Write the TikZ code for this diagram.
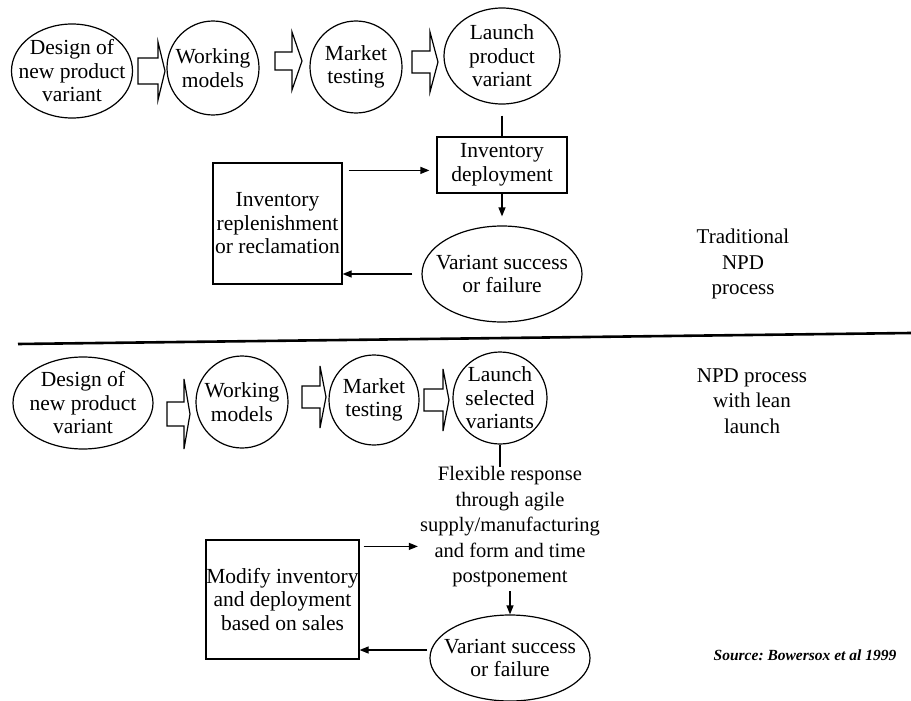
\documentclass[tikz,border=0pt]{standalone}
\usepackage{fontspec}
\setmainfont{Liberation Serif}
\usetikzlibrary{shapes.geometric,arrows.meta,calc}
\frenchspacing
\begin{document}
\begin{tikzpicture}[x=1pt,y=-1pt,
  every node/.style={font=\fontsize{21.5}{23.5}\selectfont, align=center, inner sep=0pt},
  stage/.style={draw, ellipse, line width=1.2pt, inner sep=0pt},
  stepbox/.style={draw, rectangle, line width=1.2pt},
  fat/.style={draw, line width=1.2pt, line join=miter},
  plain/.style={line width=1.2pt},
  arr/.style={line width=1.2pt, -{Triangle[length=9pt,width=7pt]}},
  sidetext/.style={font=\fontsize{21}{25.5}\selectfont}
]
\useasboundingbox (0,0) rectangle (911,701);

% ---------- traditional NPD process ----------
\node[stage, minimum width=121pt, minimum height=94pt,
      label={center:Design of\\new product\\variant}] (d1) at (72,71) {};
\node[stage, minimum width=92pt, minimum height=94pt,
      label={center:Working\\models}] (wm1) at (213,68) {};
\node[stage, minimum width=92pt, minimum height=92pt,
      label={center:Market\\testing}] (mt1) at (356,67) {};
\node[stage, minimum width=116pt, minimum height=96pt,
      label={center:Launch\\product\\variant}] (lp1) at (502,56) {};

% hollow block arrows between the stages
\draw[fat] (138,58) -- (158,58) -- (158,42) -- (165,71) -- (158,100) -- (158,84) -- (138,84) -- cycle;
\draw[fat] (275,52) -- (292,52) -- (292,32) -- (302,61) -- (292,90) -- (292,70) -- (275,70) -- cycle;
\draw[fat] (412,51) -- (430,51) -- (430,32) -- (438,62) -- (430,92) -- (430,73) -- (412,73) -- cycle;

\node[stepbox, minimum width=130pt, minimum height=56pt] (dep) at (502,165) {Inventory\\deployment};
\node[stage, minimum width=160pt, minimum height=96pt,
      label={center:Variant success\\or failure}] (var1) at (502,274) {};
\node[stepbox, minimum width=129pt, minimum height=121pt] (rep) at (277.5,223.5)
      {Inventory\\replenishment\\or reclamation};

\draw[plain] ([yshift=-11pt]lp1.south) -- (dep.north);
\draw[arr, shorten >=9pt] (dep.south) -- (var1.north);
\coordinate (r1) at ([xshift=6pt,yshift=-8pt]rep.north east);
\draw[arr, shorten >=7pt] (r1) -- (r1 -| dep.west);
\coordinate (v0) at ([xshift=-9pt]var1.west);
\draw[arr] (v0) -- (v0 -| rep.east);

\node[sidetext] (trad) at (743,264) {Traditional\\NPD\\process};

% ---------- separator ----------
\coordinate (sepL) at (18,344);
\coordinate (sepR) at (911,333);
\draw[line width=2.6pt] (sepL) -- (sepR);

% ---------- NPD process with lean launch ----------
\node[stage, minimum width=140pt, minimum height=92pt,
      label={center:Design of\\new product\\variant}] (d2) at (83,403) {};
\node[stage, minimum width=92pt, minimum height=92pt,
      label={center:Working\\models}] (wm2) at (242,402) {};
\node[stage, minimum width=90pt, minimum height=90pt,
      label={center:Market\\testing}] (mt2) at (374,400) {};
\node[stage, minimum width=94pt, minimum height=92pt,
      label={center:Launch\\selected\\variants}] (lp2) at (500,398) {};

\draw[fat] (167,402) -- (184,402) -- (184,379) -- (190,414) -- (184,449) -- (184,426) -- (167,426) -- cycle;
\draw[fat] (302,386) -- (320,386) -- (320,366) -- (326,397) -- (320,428) -- (320,408) -- (302,408) -- cycle;
\draw[fat] (424,389) -- (443,389) -- (443,369) -- (449,400) -- (443,431) -- (443,411) -- (424,411) -- cycle;

\node[font=\fontsize{20.5}{25.5}\selectfont] (flex) at (510,527)
  {Flexible response\\through agile\\supply/manufacturing\\and form and time\\postponement};
\node[stage, minimum width=160pt, minimum height=86pt,
      label={center:Variant success\\or failure}] (var2) at (510,658) {};
\node[stepbox, minimum width=153pt, minimum height=119pt] (mod) at (282.5,599.5)
      {Modify inventory\\and deployment\\based on sales};

\draw[plain] (lp2.south) -- (lp2.south |- flex.north);
\draw[arr, shorten <=4pt] (flex.south) -- (var2.north);
\coordinate (m1) at ([xshift=4pt,yshift=-7pt]mod.north east);
\draw[arr, shorten >=2pt] (m1) -- (m1 -| flex.west);
\coordinate (v2) at ([xshift=-2pt,yshift=8pt]var2.west);
\draw[arr] (v2) -- (v2 -| mod.east);

\node[sidetext] (lean) at (752,401) {NPD process\\with lean\\launch};
\node[font=\fontsize{15.5}{18}\selectfont\bfseries\itshape] (src) at (805,655)
  {Source: Bowersox et al 1999};
\end{tikzpicture}
\end{document}
